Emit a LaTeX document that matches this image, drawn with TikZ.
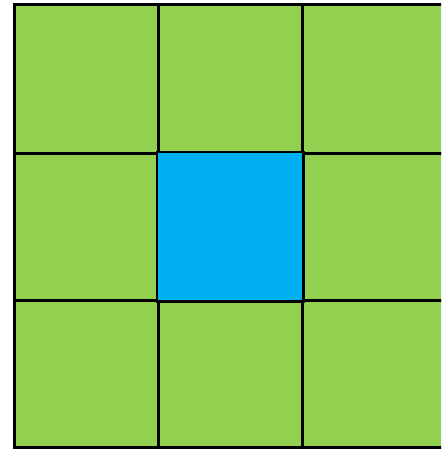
\documentclass[tikz,border=0pt]{standalone}
\definecolor{cellgreen}{HTML}{92D050}
\definecolor{cellblue}{HTML}{00B0F0}
\tikzset{cell/.style={fill=cellgreen,draw=black,line width=2.6pt}}
\begin{document}
\begin{tikzpicture}[x=1pt,y=-1pt]
\fill[white] (0,0) rectangle (441,449);
\clip (0,0) rectangle (441,449);
\useasboundingbox (0,0) rectangle (441,449);
\foreach \i/\xa/\xb in {0/13/157,1/157/301,2/301/448}{
  \foreach \j/\ya/\yb in {0/3/152,1/152/299,2/299/446}{
    \node[cell,minimum width={(\xb-\xa)*1pt},minimum height={(\yb-\ya)*1pt},inner sep=0pt,anchor=north west] (c\i\j) at (\xa,\ya) {};
  }
}
\fill[cellblue] (c11.north west) rectangle (c11.south east);
\draw[line width=2.6pt] (c11.north west) rectangle (c11.south east);
\end{tikzpicture}
\end{document}
